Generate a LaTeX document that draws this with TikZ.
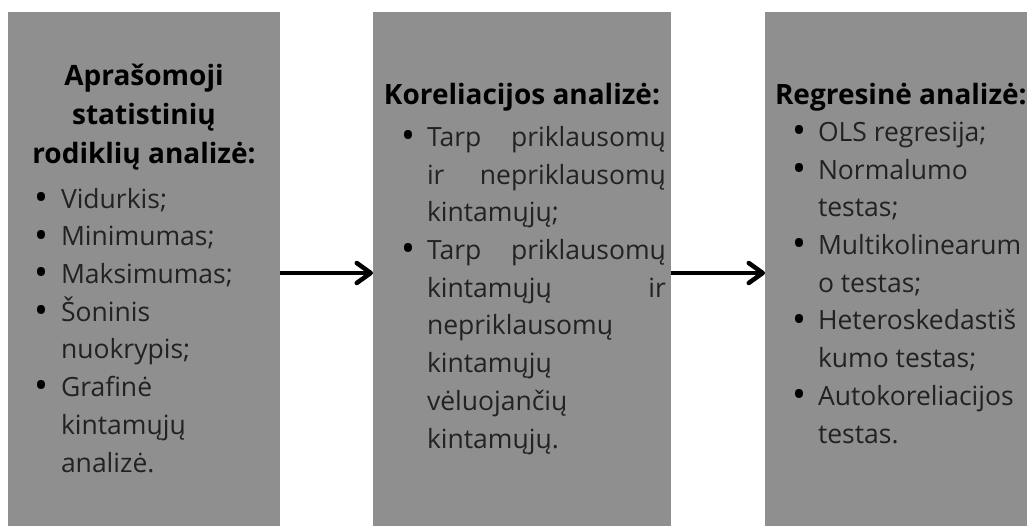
\documentclass[tikz,border=0pt]{standalone}
\usepackage{fontspec}
\setmainfont{Open Sans}
\usetikzlibrary{arrows.meta}
\usetikzlibrary{positioning}

\definecolor{panelgray}{RGB}{143,143,143}
\definecolor{itemtext}{RGB}{34,34,34}
\newcommand{\blt}{\makebox[24pt][l]{\hspace*{-2pt}\color{black}\raisebox{-0.09em}{\scalebox{1.4}{\textbullet}}}}
\newcommand{\ind}{\hspace*{24pt}}
\newcommand{\jline}[1]{\makebox[239pt][s]{#1}}

\begin{document}
\begin{tikzpicture}[x=1pt, y=-1pt, every node/.style={inner sep=0pt, outer sep=0pt}]
		\tikzstyle{panel}=[fill=panelgray, minimum height=522pt]
		\tikzstyle{heading}=[font=\fontsize{28}{39}\selectfont\bfseries, align=center, text=black, anchor=base]
		\tikzstyle{items}=[font=\fontsize{26.5}{37.7}\selectfont, align=left, text=itemtext, anchor=base west]
		\tikzstyle{flow}=[line width=4.5pt, -{Straight Barb[length=14pt, width=20pt, round]}]

		\useasboundingbox (0,0) rectangle (1027,525);

    % Panels
		\node[panel, minimum width=272pt](p1) at (144,273){};
		\node[panel, minimum width=298pt](p2) at (522,273){};
		\node[panel, minimum width=290pt](p3) at (910,273){};

    % Headings (anchored at the last baseline)
		\node[heading](h1) at (144,163){Aprašomoji\\statistinių\\rodiklių analizė:};
		\node[heading](h2) at (522,104){Koreliacijos analizė:};
		\node[heading, anchor=base west](h3) at (775,104){Regresinė analizė:};

    % Lists (anchored at the last baseline)
		\node[items](l1) at (37,472){%
			\blt Vidurkis;\\
			\blt Minimumas;\\
			\blt Maksimumas;\\
			\blt Šoninis\\
			\ind nuokrypis;\\
			\blt Grafinė\\
			\ind kintamųjų\\
			\ind analizė.};
		\node[items](l2) at (403,448){%
			\blt\jline{Tarp priklausomų}\\
			\ind\jline{ir nepriklausomų}\\
			\ind kintamųjų;\\
			\blt\jline{Tarp priklausomų}\\
			\ind\jline{kintamųjų ir}\\
			\ind nepriklausomų\\
			\ind kintamųjų\\
			\ind vėluojančių\\
			\ind kintamųjų.};
		\node[items](l3) at (794,443){%
			\blt OLS regresija;\\
			\blt Normalumo\\
			\ind testas;\\
			\blt Multikolinearum\\
			\ind o testas;\\
			\blt Heteroskedastiš\\
			\ind kumo testas;\\
			\blt Autokoreliacijos\\
			\ind testas.};

    % Connections
		\draw[flow] (p1) -- (p2);
		\draw[flow] (p2) -- (p3);

  \end{tikzpicture}
\end{document}
